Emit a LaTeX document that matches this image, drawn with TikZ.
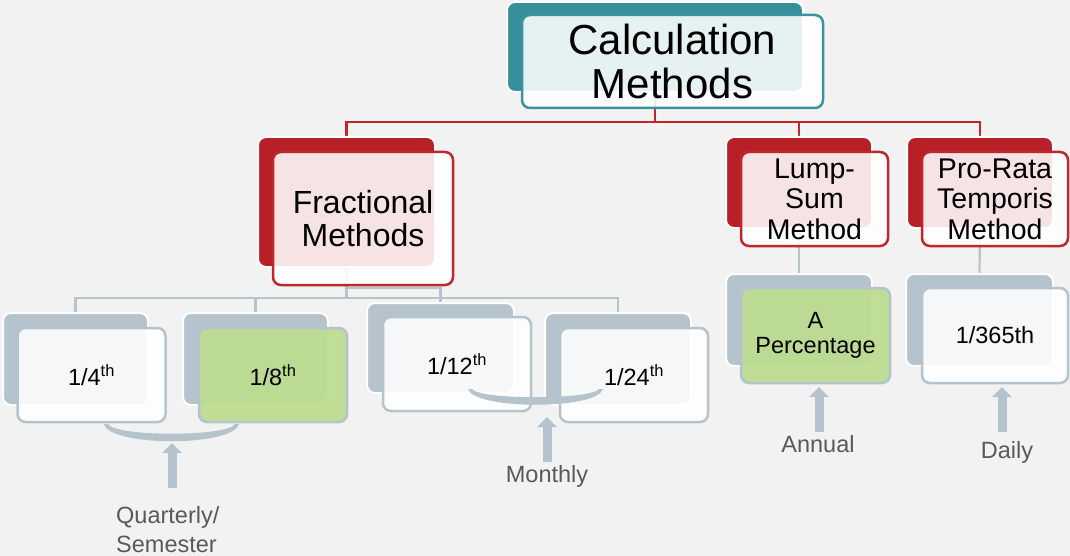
\documentclass[tikz,border=0pt]{standalone}
\usepackage{fontspec}
\setmainfont{Liberation Sans}
\usetikzlibrary{arrows.meta,backgrounds}

\definecolor{fondo}{HTML}{F2F2F2}
\definecolor{tealFondo}{HTML}{368F9B}
\definecolor{tealBorde}{HTML}{3A939E}
\definecolor{rojoFondo}{HTML}{B82027}
\definecolor{rojoBorde}{HTML}{C0272D}
\definecolor{grisFondo}{HTML}{B4C3CC}
\definecolor{verde}{HTML}{BCDC8F}
\definecolor{grisTexto}{HTML}{595959}

\tikzset{
  cajaatras/.style={draw=white, line width=2pt, rounded corners=8pt, inner sep=0pt},
  cajafrente/.style={line width=2.5pt, rounded corners=8pt, fill=white, fill opacity=0.88,
    text opacity=1, align=center, inner sep=0pt},
  nivelfrac/.style={minimum width=148pt, minimum height=94pt, font=\fontsize{23.5}{24.5}\selectfont},
  conrojo/.style={draw=rojoBorde, line width=2.2pt},
  congris/.style={draw=grisFondo, line width=2.2pt},
  flecha/.style={draw=grisFondo, line width=9pt, -{Triangle[width=19pt,length=10pt]}},
  etiq/.style={text=grisTexto, font=\fontsize{23.5}{29}\selectfont, inner sep=0pt}
}

\begin{document}
\begin{tikzpicture}[x=1pt, y=-1pt]
  % Fondo
  \begin{pgfonlayer}{background}
    \fill[fondo] (0,0) rectangle (1070,556);
  \end{pgfonlayer}
  \useasboundingbox (0,0) rectangle (1070,556);

  % Nivel 1
  \node[cajaatras, fill=tealFondo, minimum width=296pt, minimum height=90pt] (calcB) at (655,47) {};
  \node[cajafrente, draw=tealBorde, minimum width=301pt, minimum height=93pt,
    font=\fontsize{42}{44}\selectfont] (calcF) at (672.5,61.5) {Calculation\\Methods};

  % Nivel 2
  \node[cajaatras, fill=rojoFondo, minimum width=177pt, minimum height=130pt] (fracB) at (346.5,202) {};
  \node[cajafrente, draw=rojoBorde, minimum width=180pt, minimum height=133pt,
    font=\fontsize{32}{33}\selectfont] (fracF) at (363,218.5) {Fractional\\Methods};
  \node[cajaatras, fill=rojoFondo, minimum width=146pt, minimum height=91pt] (lumpB) at (799,182.5) {};
  \node[cajafrente, draw=rojoBorde, minimum width=147pt, minimum height=94pt,
    font=\fontsize{28.5}{30.5}\selectfont] (lumpF) at (814.5,199) {Lump-\\Sum\\Method};
  \node[cajaatras, fill=rojoFondo, minimum width=146pt, minimum height=91pt] (rataB) at (980,182.5) {};
  \node[cajafrente, draw=rojoBorde, minimum width=146pt, minimum height=94pt,
    font=\fontsize{28.5}{30.5}\selectfont] (rataF) at (995,199) {Pro-Rata\\Temporis\\Method};

  % Nivel 3: fracciones
  \node[cajaatras, fill=grisFondo, minimum width=145pt, minimum height=92pt] (cuartoB) at (75.5,359) {};
  \node[cajafrente, nivelfrac, draw=grisFondo] (cuartoF) at (91.5,375) {1/4\textsuperscript{th}};
  \node[cajaatras, fill=grisFondo, minimum width=145pt, minimum height=92pt] (octavoB) at (255.5,359) {};
  \node[cajafrente, nivelfrac, draw=grisFondo, fill=verde, fill opacity=0.92] (octavoF) at (273,375) {1/8\textsuperscript{th}};
  \node[cajaatras, fill=grisFondo, minimum width=147pt, minimum height=90pt] (doceB) at (440.5,348) {};
  \node[cajafrente, nivelfrac, draw=grisFondo] (doceF) at (457,364) {1/12\textsuperscript{th}};
  \node[cajaatras, fill=grisFondo, minimum width=146pt, minimum height=92pt] (veintiB) at (618,359) {};
  \node[cajafrente, nivelfrac, draw=grisFondo] (veintiF) at (634,375) {1/24\textsuperscript{th}};

  % Nivel 3: porcentaje y diario
  \node[cajaatras, fill=grisFondo, minimum width=146pt, minimum height=92pt] (pctB) at (799,320) {};
  \node[cajafrente, nivelfrac, draw=grisFondo, fill=verde, fill opacity=0.92,
    minimum width=149pt, minimum height=95pt] (pctF) at (815.5,335.5) {A\\Percentage};
  \node[cajaatras, fill=grisFondo, minimum width=147pt, minimum height=92pt] (diaB) at (979.5,320) {};
  \node[cajafrente, nivelfrac, draw=grisFondo, minimum width=146pt, minimum height=95pt] (diaF) at (995,335.5) {1/365th};

  % Conectores
  \begin{pgfonlayer}{background}
    \coordinate (calcJ) at (655,122);
    \draw[conrojo] (calcB.south) -- (calcJ) -| (fracB.north);
    \draw[conrojo] (calcJ) -| (lumpB.north);
    \draw[conrojo] (calcJ) -| (rataB.north);
    \coordinate (fracJ) at (346.5,298);
    \coordinate (fracK) at (346.5,288);
    \draw[congris] (fracB.south) -- (fracJ) -| (cuartoB.north);
    \draw[congris] (fracJ) -| (octavoB.north);
    \draw[congris] (fracJ) -| (veintiB.north);
    \draw[congris] (fracK) -| (doceB.north);
    \draw[congris] (lumpB.south) -- (pctB.north);
    \draw[congris] (rataB.south) -- (diaB.north);
  \end{pgfonlayer}

  % Llaves
  \fill[grisFondo] (104,424) .. controls (110,447) and (233,447) .. (239,424)
    -- (235,424) .. controls (228,437) and (115,437) .. (108,424) -- cycle;
  \fill[grisFondo] (468,389) .. controls (474,410) and (597,410) .. (603,389)
    -- (599,389) .. controls (592,400) and (479,400) .. (472,389) -- cycle;

  % Etiquetas
  \node[etiq, anchor=north west, align=left] (trimLbl) at (116,506) {Quarterly/\\Semester};
  \node[etiq, anchor=base] (mesLbl) at (547,482) {Monthly};
  \node[etiq, anchor=base] (anualLbl) at (818,452) {Annual};
  \node[etiq, anchor=base] (diaLbl) at (1007,458) {Daily};

  % Flechas
  \coordinate (trimT) at (172,488);
  \coordinate (trimP) at (172,443);
  \coordinate (mesT) at (547,462);
  \coordinate (mesP) at (547,417);
  \coordinate (anualT) at (819,432);
  \coordinate (anualP) at (819,387);
  \coordinate (diaT) at (1002,432);
  \coordinate (diaP) at (1002,387);
  \draw[flecha] (trimT) -- (trimP);
  \draw[flecha] (mesT) -- (mesP);
  \draw[flecha] (anualT) -- (anualP);
  \draw[flecha] (diaT) -- (diaP);
\end{tikzpicture}
\end{document}
